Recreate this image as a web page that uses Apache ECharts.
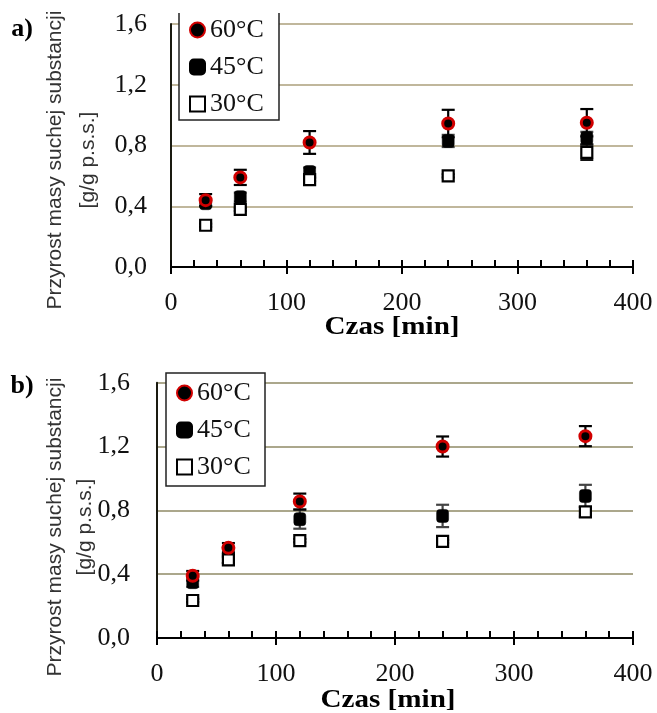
<!DOCTYPE html>
<html><head><meta charset="utf-8">
<script src="https://cdn.jsdelivr.net/npm/echarts@6/dist/echarts.min.js"></script>
<style>html,body{margin:0;padding:0;background:#fff}#c{width:657px;height:713px}</style>
</head><body><div id="c"></div>
<script>
// ---- data ----
var times = [30, 60, 120, 240, 360];
var seriesNames = ['60°C', '45°C', '30°C'];
var xTicks = [0, 100, 200, 300, 400];
var xMinorStep = 20;
var yTicks = [0.0, 0.4, 0.8, 1.2, 1.6];

// chart a)
var a60 = [0.44, 0.59, 0.82, 0.945, 0.95];
var a60err = [0.04, 0.05, 0.075, 0.09, 0.09];
var a45 = [0.42, 0.46, 0.625, 0.83, 0.85];
var a45err = [0.02, 0.03, 0.03, 0.04, 0.04];
var a30 = [0.275, 0.38, 0.575, 0.60, 0.755];
var a30err = [0.01, 0.01, 0.01, 0.01, 0.05];

// chart b)
var b60 = [0.39, 0.565, 0.855, 1.20, 1.265];
var b60err = [0.03, 0.03, 0.05, 0.063, 0.063];
var b45 = [0.35, 0.52, 0.745, 0.765, 0.89];
var b45err = [0.03, 0.05, 0.06, 0.07, 0.07];
var b30 = [0.235, 0.49, 0.61, 0.605, 0.79];
var b30err = [0.01, 0.02, 0.01, 0.01, 0.03];

var panelLabels = ['a)', 'b)'];
var yTitle = 'Przyrost masy suchej substancji\n[g/g p.s.s.]';
var xTitle = 'Czas [min]';

// ---- helpers ----
function pts(vals) { return times.map(function (t, i) { return [t, vals[i]]; }); }
function errPts(vals, errs) { return times.map(function (t, i) { return [t, vals[i] - errs[i], vals[i] + errs[i]]; }); }
function errRender(color) {
  return function (params, api) {
    var x = api.value(0);
    var p1 = api.coord([x, api.value(1)]);
    var p2 = api.coord([x, api.value(2)]);
    var w = 6.5;
    var st = { stroke: color, lineWidth: 2.2 };
    return { type: 'group', children: [
      { type: 'line', shape: { x1: p1[0], y1: p1[1], x2: p2[0], y2: p2[1] }, style: st },
      { type: 'line', shape: { x1: p1[0] - w, y1: p1[1], x2: p1[0] + w, y2: p1[1] }, style: st },
      { type: 'line', shape: { x1: p2[0] - w, y1: p2[1], x2: p2[0] + w, y2: p2[1] }, style: st }
    ]};
  };
}
var serif = 'Liberation Serif, Times New Roman, serif';
var sans = 'Liberation Sans, Arial, sans-serif';

var styles = {
  '60°C': { symbol: 'circle', symbolSize: 11, itemStyle: { color: '#000', borderColor: '#d10000', borderWidth: 3, opacity: 1 } },
  '45°C': { symbol: 'roundRect', symbolSize: [12, 13], itemStyle: { color: '#000', borderColor: '#000', borderWidth: 0.5, opacity: 1 } },
  '30°C': { symbol: 'rect', symbolSize: 11, itemStyle: { color: '#fff', borderColor: '#000', borderWidth: 2.2, opacity: 1 } }
};

function buildSeries(gi, d60, e60, d45, e45, d30, e30) {
  var xi = gi * 2, yi = gi;
  function sc(name, d) {
    var s = styles[name];
    return { name: name, type: 'scatter', xAxisIndex: xi, yAxisIndex: yi, data: pts(d),
      symbol: s.symbol, symbolSize: s.symbolSize, itemStyle: s.itemStyle, z: 3,
      emphasis: { disabled: true } };
  }
  function er(name, d, e, c) {
    return { name: name + ' error', type: 'custom', xAxisIndex: xi, yAxisIndex: yi, data: errPts(d, e),
      renderItem: errRender(c), encode: { x: 0, y: [1, 2] }, z: 3, silent: true };
  }
  return [
    er('45°C', d45, e45, '#444'), sc('45°C', d45),
    er('30°C', d30, e30, '#111'), sc('30°C', d30),
    er('60°C', d60, e60, '#000'), sc('60°C', d60)
  ];
}

var grids = [
  { left: 171, right: 24, top: 24, height: 243 },
  { left: 157, right: 24, top: 382.7, height: 255.3 }
];
var gridColors = ['#ab9f7b', '#8f8a66'];
var yLabelMargins = [24, 27];

var xAxes = [], yAxes = [];
grids.forEach(function (g, gi) {
  var xmin = xTicks[0], xmax = xTicks[xTicks.length - 1], major = xTicks[1] - xTicks[0];
  // axis with all (minor + major) upward ticks and labels at majors
  xAxes.push({
    type: 'value', gridIndex: gi, min: xmin, max: xmax, interval: xMinorStep,
    axisLine: { show: true, onZero: false, lineStyle: { color: '#000', width: 2 } },
    axisTick: { show: true, inside: true, length: 7, lineStyle: { color: '#000', width: 2 } },
    splitLine: { show: false },
    axisLabel: { margin: 23, fontFamily: serif, fontSize: 26, color: '#111',
      formatter: function (v) { return xTicks.indexOf(v) >= 0 ? String(v) : ''; } }
  });
  // overlay axis: major ticks extending below the axis line
  xAxes.push({
    type: 'value', gridIndex: gi, position: 'bottom', min: xmin, max: xmax, interval: major,
    axisLine: { show: false },
    axisTick: { show: true, inside: false, length: 7, lineStyle: { color: '#000', width: 2 } },
    splitLine: { show: false }, axisLabel: { show: false }
  });
  yAxes.push({
    type: 'value', gridIndex: gi, min: yTicks[0], max: yTicks[yTicks.length - 1], interval: yTicks[1] - yTicks[0],
    axisLine: { show: true, lineStyle: { color: '#1a1a10', width: 2 } },
    axisTick: { show: false },
    splitLine: { show: true, lineStyle: { color: gridColors[gi], width: 1.5 } },
    axisLabel: { margin: yLabelMargins[gi], fontFamily: serif, fontSize: 26, color: '#111',
      formatter: function (v) { return v.toFixed(1).replace('.', ','); } }
  });
});

var series = buildSeries(0, a60, a60err, a45, a45err, a30, a30err)
  .concat(buildSeries(1, b60, b60err, b45, b45err, b30, b30err));

var legendBase = {
  orient: 'vertical', padding: 0, itemWidth: 15, itemHeight: 15, itemGap: 11, z: 20,
  selectedMode: false, data: seriesNames,
  textStyle: { fontFamily: serif, fontSize: 26, color: '#111', lineHeight: 26 }
};
var legends = [
  Object.assign({}, legendBase, { left: 189, top: 17 }),
  Object.assign({}, legendBase, { left: 176, top: 380 })
];

var graphics = [
  // legend boxes
  { type: 'rect', z: 15, shape: { x: 179, y: 13, width: 100, height: 107 }, style: { fill: '#fff', stroke: null } },
  { type: 'polyline', z: 16, shape: { points: [[179, 13], [179, 120], [279, 120], [279, 13]] }, style: { stroke: '#222', lineWidth: 1.5, fill: null } },
  { type: 'rect', z: 15, shape: { x: 166, y: 373, width: 99, height: 113 }, style: { fill: '#fff', stroke: '#222', lineWidth: 1.5 } },
  // panel labels
  { type: 'text', z: 20, x: 22, y: 29, style: { text: panelLabels[0], font: 'bold 26px ' + serif, fill: '#000', align: 'center', verticalAlign: 'middle' } },
  { type: 'text', z: 20, x: 22, y: 386, style: { text: panelLabels[1], font: 'bold 26px ' + serif, fill: '#000', align: 'center', verticalAlign: 'middle' } },
  // y titles
  { type: 'text', z: 20, x: 71.5, y: 160, rotation: Math.PI / 2, style: { text: yTitle, font: '21px ' + sans, fill: '#333', align: 'center', verticalAlign: 'middle', lineHeight: 33 } },
  { type: 'text', z: 20, x: 70, y: 527, rotation: Math.PI / 2, style: { text: yTitle, font: '21px ' + sans, fill: '#333', align: 'center', verticalAlign: 'middle', lineHeight: 30 } },
  // x titles
  { type: 'text', z: 20, x: 392, y: 327, scaleX: 1.12, style: { text: xTitle, font: 'bold 26px ' + serif, fill: '#000', align: 'center', verticalAlign: 'middle' } },
  { type: 'text', z: 20, x: 388, y: 700, scaleX: 1.12, style: { text: xTitle, font: 'bold 26px ' + serif, fill: '#000', align: 'center', verticalAlign: 'middle' } }
];

var chart = echarts.init(document.getElementById('c'), null, { renderer: 'canvas' });
chart.setOption({
  animation: false,
  backgroundColor: '#fff',
  grid: grids,
  xAxis: xAxes,
  yAxis: yAxes,
  legend: legends,
  graphic: graphics,
  series: series
});
</script></body></html>
